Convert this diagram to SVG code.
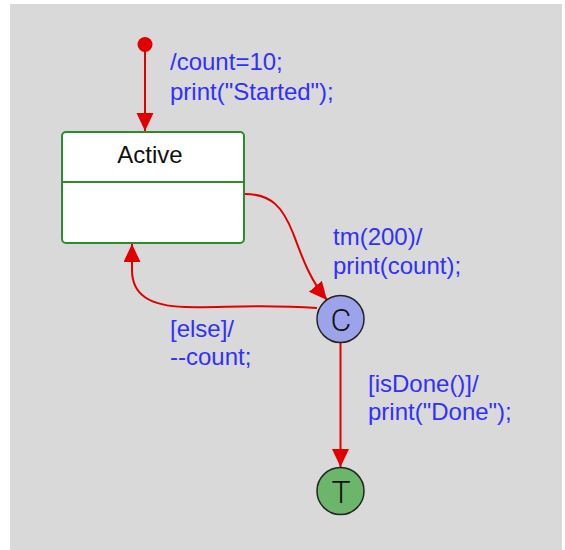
<svg xmlns="http://www.w3.org/2000/svg" width="565" height="550" viewBox="0 0 565 550">
<style>
.bg{fill:#d9d9d9}
.lbl{font-family:"Liberation Sans",Arial,sans-serif;font-size:24px;fill:#3030ff}
.tr{fill:none;stroke:#e00000;stroke-width:2}
.state{fill:#ffffff;stroke:#2e8b2e;stroke-width:2}
.name{font-family:"Liberation Sans",Arial,sans-serif;font-size:24px;fill:#111111;text-anchor:middle}
.sym{font-family:Roboto,"Liberation Sans",Arial,sans-serif;font-weight:300;font-size:32px;fill:#111111;text-anchor:middle}
.pseudo{stroke:#222222;stroke-width:1.5}
</style>
<defs>
<marker id="arr" markerUnits="userSpaceOnUse" markerWidth="19" markerHeight="18" refX="18" refY="8.5" orient="auto">
<path d="M0,0 L18,8.5 L0,17 z" fill="#e00000"/>
</marker>
</defs>
<rect x="0" y="0" width="565" height="550" fill="#ffffff"/>
<rect class="bg" x="10" y="4" width="552" height="546"/>
<g id="connectors">
<path id="t-init" class="tr" d="M145,51 L145,131" marker-end="url(#arr)"/>
<path id="t-tm" class="tr" d="M245,194 C272,194 283,208 293,233 C302,257 310,280 327,300" marker-end="url(#arr)"/>
<path id="t-else" class="tr" d="M317,308 C260,304 220,308 185,307 C150,306 132,295 132,270 L132,244" marker-end="url(#arr)"/>
<path id="t-done" class="tr" d="M340.5,343 L340.5,467" marker-end="url(#arr)"/>
</g>
<g id="labels">
<text class="lbl" x="170" y="70">/count=10;</text>
<text class="lbl" x="170" y="100">print("Started");</text>
<text class="lbl" x="333" y="245">tm(200)/</text>
<text class="lbl" x="333" y="274">print(count);</text>
<text class="lbl" x="170" y="337">[else]/</text>
<text class="lbl" x="170" y="365">--count;</text>
<text class="lbl" x="368" y="392">[isDone()]/</text>
<text class="lbl" x="368" y="420">print("Done");</text>
</g>
<g id="initial">
<circle cx="145" cy="44.5" r="7.5" fill="#e00000"/>
</g>
<g id="active">
<rect class="state" x="62" y="132" width="182" height="111" rx="4"/>
<line x1="62" y1="182" x2="244" y2="182" stroke="#2e8b2e" stroke-width="2"/>
<text class="name" x="150" y="163">Active</text>
</g>
<g id="choice">
<circle class="pseudo" cx="340.5" cy="319" r="23.5" fill="#9da3eb"/>
<text class="sym" x="341" y="330.5">C</text>
</g>
<g id="terminal">
<circle class="pseudo" cx="340.5" cy="491" r="23.5" fill="#6cb66c"/>
<text class="sym" x="341" y="503">T</text>
</g>
</svg>
